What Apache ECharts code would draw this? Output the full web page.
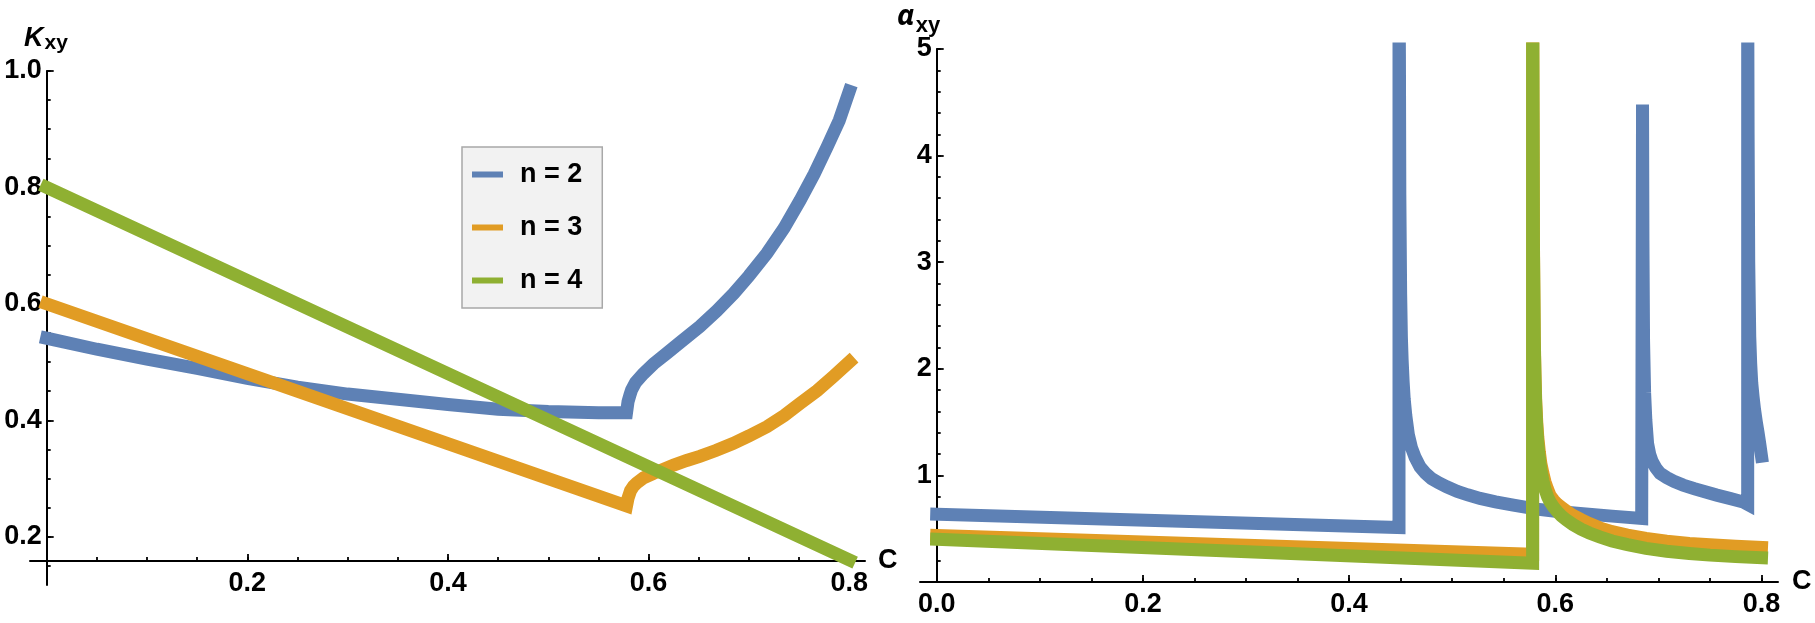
<!DOCTYPE html>
<html>
<head>
<meta charset="utf-8">
<title>Kxy / αxy</title>
<script src="https://cdn.jsdelivr.net/npm/echarts@6/dist/echarts.min.js"></script>
<style>
  html, body { margin: 0; padding: 0; background: #fff; }
  #main { width: 1815px; height: 623px; }
</style>
</head>
<body>
<div id="main"></div>
<script>
"use strict";

// 图例名称与颜色
const seriesNames = ["n = 2", "n = 3", "n = 4"];
const colors = ["#5e81b5", "#e19c24", "#8fb032"];

// 左图 K_xy，[C, K]
const kxy2 = [[0, 0.541], [0.05, 0.522], [0.1, 0.505], [0.15, 0.489], [0.2, 0.472], [0.25, 0.457],
  [0.3, 0.445], [0.35, 0.436], [0.4, 0.427], [0.45, 0.419], [0.5, 0.415], [0.55, 0.413], [0.578, 0.413],
  [0.5795, 0.432], [0.5815, 0.444], [0.583, 0.452], [0.587, 0.465], [0.5947, 0.48], [0.605, 0.497],
  [0.618, 0.515], [0.633, 0.536], [0.651, 0.561], [0.668, 0.588], [0.685, 0.618], [0.7, 0.648],
  [0.718, 0.687], [0.735, 0.73], [0.751, 0.778], [0.765, 0.823], [0.778, 0.87], [0.79, 0.915], [0.8, 0.965]];
const kxy3 = [[0, 0.6], [0.578, 0.253], [0.5795, 0.266], [0.582, 0.279], [0.585, 0.287], [0.588, 0.292],
  [0.595, 0.301], [0.605, 0.309], [0.615, 0.316], [0.625, 0.323], [0.638, 0.331], [0.651, 0.338],
  [0.667, 0.348], [0.684, 0.36], [0.7, 0.373], [0.718, 0.389], [0.735, 0.408], [0.751, 0.429],
  [0.768, 0.451], [0.784, 0.475], [0.8, 0.5]];
const kxy4 = [[0, 0.8], [0.8, 0.16]];

// 右图 α_xy，[C, α]
const axy2 = [[0, 0.636], [0.4484, 0.511], [0.4484, 5.6], [0.4488, 4.95], [0.4492, 3.63], [0.45, 2.7],
  [0.4507, 2.3], [0.4514, 2.09], [0.4524, 1.88], [0.4534, 1.72], [0.455, 1.56], [0.4575, 1.38],
  [0.4605, 1.26], [0.464, 1.17], [0.4688, 1.08], [0.474, 1.02], [0.48, 0.97], [0.487, 0.93],
  [0.4947, 0.893], [0.505, 0.85], [0.515, 0.818], [0.527, 0.784], [0.542, 0.752], [0.5593, 0.721],
  [0.582, 0.684], [0.6, 0.664], [0.624, 0.643], [0.655, 0.618], [0.6838, 0.596],
  [0.6846, 4.48], [0.685, 3.2], [0.6856, 2.26], [0.6866, 1.78], [0.6878, 1.52], [0.6895, 1.3],
  [0.6915, 1.2], [0.694, 1.13], [0.6975, 1.07], [0.7016, 1.02], [0.708, 0.98], [0.715, 0.945],
  [0.724, 0.909], [0.735, 0.875], [0.7566, 0.815], [0.77, 0.782], [0.7823, 0.75], [0.7866, 0.728],
  [0.7866, 5.6], [0.787, 4.2], [0.7876, 3.0], [0.7886, 2.3], [0.7895, 2.05], [0.7905, 1.87],
  [0.7918, 1.74], [0.7932, 1.62], [0.795, 1.5], [0.7967, 1.4], [0.7984, 1.29], [0.8, 1.18]];
const axy3 = [[0, 0.436], [0.578, 0.26], [0.578, 5.6], [0.5784, 4.4], [0.5788, 3.2], [0.5796, 2.3],
  [0.5803, 1.95], [0.581, 1.7], [0.582, 1.5], [0.583, 1.36], [0.5845, 1.22], [0.586, 1.11],
  [0.588, 1.02], [0.59, 0.94], [0.5925, 0.87], [0.595, 0.81], [0.5985, 0.765], [0.602, 0.73],
  [0.606, 0.7], [0.611, 0.664], [0.617, 0.625], [0.625, 0.585], [0.633, 0.548], [0.643, 0.508],
  [0.655, 0.472], [0.67, 0.44], [0.688, 0.408], [0.708, 0.382], [0.73, 0.362], [0.75, 0.35],
  [0.775, 0.336], [0.8, 0.325]];
const axy4 = [[0, 0.4], [0.578, 0.175], [0.578, 5.6], [0.5784, 4.4], [0.5788, 3.15], [0.5796, 2.25],
  [0.5803, 1.9], [0.581, 1.66], [0.582, 1.45], [0.583, 1.3], [0.5845, 1.16], [0.586, 1.05],
  [0.588, 0.95], [0.59, 0.87], [0.5925, 0.8], [0.595, 0.75], [0.5985, 0.7], [0.602, 0.66],
  [0.606, 0.62], [0.611, 0.58], [0.617, 0.54], [0.625, 0.495], [0.633, 0.46], [0.643, 0.423],
  [0.655, 0.385], [0.67, 0.35], [0.688, 0.315], [0.708, 0.288], [0.73, 0.268], [0.75, 0.252],
  [0.775, 0.238], [0.8, 0.228]];

// 刻度标签
const kTicksC = [0.2, 0.4, 0.6, 0.8];
const kTicksK = [0.2, 0.4, 0.6, 0.8, 1.0];
const aTicksC = [0, 0.2, 0.4, 0.6, 0.8];
const aTicksA = [1, 2, 3, 4, 5];

// 次刻度位置
function steps(from, to, step) {
  const out = [];
  for (let v = from; v <= to + 1e-9; v += step) out.push(+v.toFixed(3));
  return out;
}
const kMinorC = steps(0.05, 0.8, 0.05);
const kMinorK = steps(0.15, 1.0, 0.05);
const aMinorC = steps(0.05, 0.8, 0.05);
const aMinorA = steps(0.2, 5, 0.2);

const font = '"Liberation Sans", Arial, sans-serif';
const greekFont = '"Noto Sans", "DejaVu Sans", sans-serif';
const labelStyle = { fontSize: 27, fontWeight: "bold", fontFamily: font, color: "#000" };

// 主坐标轴（轴线 + 长刻度 + 标签）
function mainAxis(o) {
  return Object.assign({
    type: "value",
    axisLine: { show: true, onZero: false, lineStyle: { color: "#000", width: 2 } },
    axisTick: { show: true, inside: true, length: 7, customValues: o.ticks, lineStyle: { color: "#000", width: 1.8 } },
    axisLabel: Object.assign({ customValues: o.ticks, formatter: o.fmt, margin: o.margin }, labelStyle),
    splitLine: { show: false },
    minorTick: { show: false }
  }, o.extra);
}
// 次刻度轴（只画短刻度）
function minorAxis(o) {
  return Object.assign({
    type: "value",
    axisLine: { show: false, onZero: false },
    axisTick: { show: true, inside: true, length: 4, customValues: o.ticks, lineStyle: { color: "#000", width: 1.8 } },
    axisLabel: { show: false },
    splitLine: { show: false }
  }, o.extra);
}

const fmt1 = v => v.toFixed(1);
const fmt0 = v => String(v);

// 左图范围
const kC = { min: -0.0166, max: 0.8157 };
const kK = { min: 0.117, max: 1.0 };
// 右图范围
const aC = { min: -0.0162, max: 0.816 };
const aA = { min: 0, max: 5 };

function lineSeries(name, data, idx, axisIdx) {
  return {
    name: name,
    type: "line",
    data: data,
    xAxisIndex: axisIdx,
    yAxisIndex: axisIdx,
    showSymbol: false,
    symbol: "none",
    clip: true,
    silent: true,
    animation: false,
    itemStyle: { color: colors[idx] },
    lineStyle: { color: colors[idx], width: 13, cap: "square", join: "miter" },
    emphasis: { disabled: true },
    z: 2 + idx
  };
}

const titleText = { fontWeight: "bold", fontFamily: font, color: "#000", verticalAlign: "top" };

const myChart = echarts.init(document.getElementById("main"));

const option = {
  backgroundColor: "#fff",
  animation: false,
  // 纵轴标题 K_xy / α_xy（带下标）
  title: [
    {
      text: "{k|K}{s|xy}", left: 24, top: 25, padding: 0,
      textStyle: { rich: {
        k: Object.assign({ fontSize: 27, fontStyle: "italic", lineHeight: 27 }, titleText),
        s: Object.assign({ fontSize: 21, lineHeight: 27, padding: [8, 0, 0, 1] }, titleText)
      } }
    },
    {
      text: "{a|α}{s|xy}", left: 897, top: 2, padding: 0,
      textStyle: { rich: {
        a: Object.assign({}, titleText, { fontSize: 29, fontStyle: "italic", lineHeight: 30, fontFamily: greekFont }),
        s: Object.assign({ fontSize: 22, lineHeight: 30, padding: [13, 0, 0, 1] }, titleText)
      } }
    }
  ],
  grid: [
    { left: 30, top: 71, width: 835, height: 514, outerBoundsMode: "none" },
    { left: 920, top: 49, width: 858, height: 533, outerBoundsMode: "none" }
  ],
  legend: {
    data: seriesNames,
    orient: "vertical",
    left: 462,
    top: 147,
    padding: [14, 20, 14, 10],
    itemGap: 26,
    itemWidth: 31,
    itemHeight: 6,
    icon: "rect",
    selectedMode: false,
    backgroundColor: "#f2f2f2",
    borderColor: "#a8a8a8",
    borderWidth: 1.5,
    textStyle: { fontSize: 27, fontWeight: "bold", fontFamily: font, color: "#000", lineHeight: 25, padding: [0, 0, 0, 12] }
  },
  xAxis: [
    mainAxis({ ticks: kTicksC, fmt: fmt1, margin: 9, extra: {
      gridIndex: 0, min: kC.min, max: kC.max, position: "bottom", offset: -24,
      name: "C", nameLocation: "end", nameGap: 13,
      nameTextStyle: Object.assign({ verticalAlign: "middle", padding: [2, 0, 0, 0] }, labelStyle)
    } }),
    minorAxis({ ticks: kMinorC, extra: { gridIndex: 0, min: kC.min, max: kC.max, position: "bottom", offset: -24 } }),
    mainAxis({ ticks: aTicksC, fmt: fmt1, margin: 9, extra: {
      gridIndex: 1, min: aC.min, max: aC.max, position: "bottom", offset: 0,
      name: "C", nameLocation: "end", nameGap: 14,
      nameTextStyle: Object.assign({ verticalAlign: "middle" }, labelStyle)
    } }),
    minorAxis({ ticks: aMinorC, extra: { gridIndex: 1, min: aC.min, max: aC.max, position: "bottom", offset: 0 } })
  ],
  yAxis: [
    mainAxis({ ticks: kTicksK, fmt: fmt1, margin: 5, extra: {
      gridIndex: 0, min: kK.min, max: kK.max, position: "left", offset: -16.7
    } }),
    minorAxis({ ticks: kMinorK, extra: { gridIndex: 0, min: kK.min, max: kK.max, position: "left", offset: -16.7 } }),
    mainAxis({ ticks: aTicksA, fmt: fmt0, margin: 5, extra: {
      gridIndex: 1, min: aA.min, max: aA.max, position: "left", offset: -16.7
    } }),
    minorAxis({ ticks: aMinorA, extra: { gridIndex: 1, min: aA.min, max: aA.max, position: "left", offset: -16.7 } })
  ],
  series: [
    lineSeries(seriesNames[0], kxy2, 0, 0),
    lineSeries(seriesNames[1], kxy3, 1, 0),
    lineSeries(seriesNames[2], kxy4, 2, 0),
    lineSeries(seriesNames[0], axy2, 0, 2),
    lineSeries(seriesNames[1], axy3, 1, 2),
    lineSeries(seriesNames[2], axy4, 2, 2)
  ]
};

myChart.setOption(option);
</script>
</body>
</html>
